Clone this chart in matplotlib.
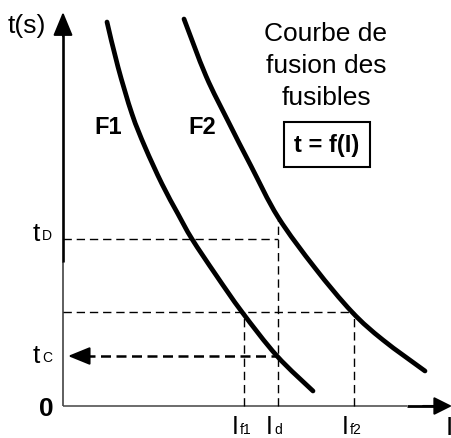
import matplotlib
matplotlib.use('Agg')
import matplotlib.pyplot as plt
from matplotlib.path import Path
from matplotlib.patches import PathPatch

plt.rcParams['font.family'] = ['Liberation Sans', 'DejaVu Sans']

# ---- data (chart units: current I on x, time t on y) ----
f1_I = [44, 55, 69, 82, 99, 115, 129, 153, 179, 214, 250]
f1_t = [384, 339, 292, 259, 222, 192, 167, 131, 94, 50, 15]
f2_I = [121, 143, 165, 188, 215, 252, 289, 320, 362]
f2_t = [387, 330, 285, 240, 189, 138, 94, 66, 35]

t_D = 167
t_mid = 94
t_C = 50
I_f1 = 181
I_d = 215
I_f2 = 291
I_d_top = 189

x_tick_labels = [(I_f1, 'I', 'f1'), (I_d, 'I', 'd'), (I_f2, 'I', 'f2')]
y_tick_labels = [(t_D, 't', 'D'), (t_C, 't', 'C')]
title_lines = ['Courbe de', 'fusion des', 'fusibles']
formula = 't = f(I)'


def smooth_path(xs, ys):
    """Catmull-Rom style cubic Bezier path passing through the given points."""
    pts = list(zip(xs, ys))
    n = len(pts)
    verts = [pts[0]]
    codes = [Path.MOVETO]
    for i in range(n - 1):
        p0 = pts[i - 1] if i > 0 else pts[i]
        p1 = pts[i]
        p2 = pts[i + 1]
        p3 = pts[i + 2] if i + 2 < n else pts[i + 1]
        c1 = (p1[0] + (p2[0] - p0[0]) / 6, p1[1] + (p2[1] - p0[1]) / 6)
        c2 = (p2[0] - (p3[0] - p1[0]) / 6, p2[1] - (p3[1] - p1[1]) / 6)
        verts += [c1, c2, p2]
        codes += [Path.CURVE4] * 3
    return Path(verts, codes)


fig = plt.figure(figsize=(4.52, 4.39), dpi=100)
ax = fig.add_axes([0, 0, 1, 1])
ax.set_xlim(-63, 389)
ax.set_ylim(-32, 407)
ax.axis('off')

# ---- axes ----
ax.plot([0, 0], [0, 144], color='#333333', lw=1.1, solid_capstyle='butt')
ax.plot([0, 0], [144, 376], color='black', lw=1.9, solid_capstyle='butt')
ax.annotate('', xy=(0, 394), xytext=(0, 370),
            arrowprops=dict(arrowstyle='-|>,head_length=1.45,head_width=0.6',
                            mutation_scale=10, color='black', lw=1.5,
                            shrinkA=0, shrinkB=0))
ax.plot([0, 344], [0, 0], color='#444444', lw=1.1, solid_capstyle='butt')
ax.plot([344, 378], [0, 0], color='black', lw=2.0, solid_capstyle='butt')
ax.annotate('', xy=(389, 0), xytext=(360, 0),
            arrowprops=dict(arrowstyle='-|>,head_length=1.1,head_width=0.55',
                            mutation_scale=10, color='black', lw=1.5,
                            shrinkA=0, shrinkB=0))

# ---- dashed guide lines ----
dkw = dict(color='black', lw=1.0, dashes=(6, 3.5))
ax.plot([0, I_d], [t_D, t_D], **dkw)
ax.plot([0, I_f2], [t_mid, t_mid], **dkw)
ax.plot([I_f1, I_f1], [0, t_mid], **dkw)
ax.plot([I_d, I_d], [0, I_d_top], **dkw)
ax.plot([I_f2, I_f2], [0, t_mid], **dkw)
ax.plot([22, I_d], [t_C, t_C], color='black', lw=1.8, dashes=(4, 2.2))
ax.annotate('', xy=(5, t_C), xytext=(26, t_C),
            arrowprops=dict(arrowstyle='-|>,head_length=1.35,head_width=0.55',
                            mutation_scale=10, color='black', lw=1.5,
                            shrinkA=0, shrinkB=0))

# ---- curves ----
for xs, ys in [(f1_I, f1_t), (f2_I, f2_t)]:
    ax.add_patch(PathPatch(smooth_path(xs, ys), fill=False, edgecolor='black',
                           lw=3.4, capstyle='round', joinstyle='round'))
ax.text(45, 280, 'F1', fontsize=17, fontweight='bold', ha='center', va='center')
ax.text(139, 280, 'F2', fontsize=17, fontweight='bold', ha='center', va='center')

# ---- axis texts ----
ax.text(-36, 381, 't(s)', fontsize=19, ha='center', va='center')
ax.text(-17, -2, '0', fontsize=19, ha='center', va='center', fontweight='bold')
ax.text(386, -9, 'I', fontsize=19, ha='center', va='top')

for y, main, sub in y_tick_labels:
    base = y - 1 if sub == 'D' else y - 6
    t = ax.text(-30, base, main, fontsize=19, ha='left', va='baseline')
    ax.annotate(sub, xy=(1, 0), xycoords=t, xytext=(1, 2), textcoords='offset points',
                fontsize=10, ha='left', va='bottom')

for x, main, sub in x_tick_labels:
    ax.text(x - 12, -8, main, fontsize=18, ha='left', va='top')
    ax.text(x - 4, -30.5, sub, fontsize=10, ha='left', va='bottom')

# ---- title block ----
for i, line in enumerate(title_lines):
    ax.text(263, 366 - i * 32, line, fontsize=19, ha='center', va='baseline')
ax.text(264, 261.5, formula, fontsize=17, fontweight='bold', ha='center', va='center',
        bbox=dict(boxstyle='square,pad=0.45', fc='white', ec='black', lw=1.5))

fig.savefig('out.png', dpi=100)
